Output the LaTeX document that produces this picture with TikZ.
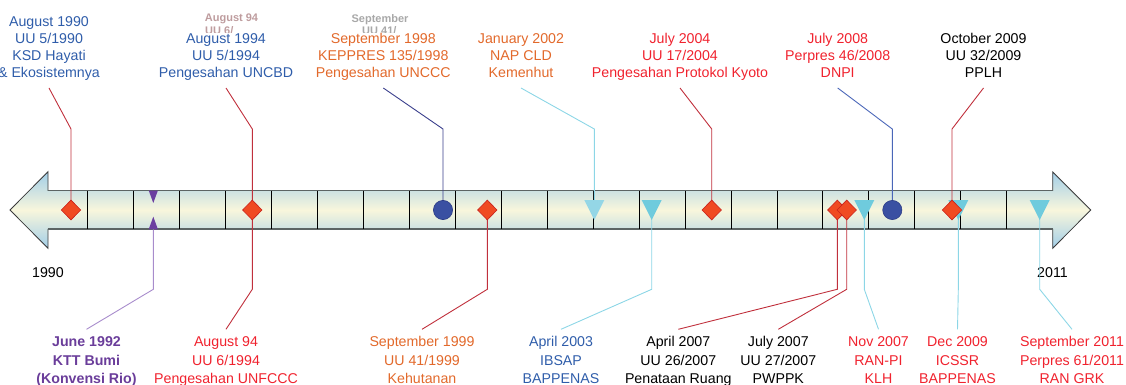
\documentclass[tikz,border=0pt]{standalone}
\usepackage{fontspec}
\setmainfont{Liberation Sans}
\usetikzlibrary{calc}

% text colours
\definecolor{cBlue}{HTML}{2F5DAA}
\definecolor{cOrange}{HTML}{E2692B}
\definecolor{cRed}{HTML}{F0222E}
\definecolor{cPurple}{HTML}{6A3D9A}
% leader colours
\definecolor{lRed}{HTML}{C0303C}
\definecolor{lNavy}{HTML}{3A3F8C}
\definecolor{lBlue}{HTML}{4A66B8}
\definecolor{lCyan}{HTML}{8CD6E6}
\definecolor{lPurple}{HTML}{A88CCC}
% marker colours
\definecolor{mkRed}{HTML}{F04A22}
\definecolor{mkRedEdge}{HTML}{C8201C}
\definecolor{mkNavy}{HTML}{3A50A2}
\definecolor{mkNavyEdge}{HTML}{2C3C86}
\definecolor{mkCyanA}{HTML}{94D6E6}
\definecolor{mkCyanB}{HTML}{6FCBDD}
\definecolor{mkPurple}{HTML}{6B3FA0}
% timeline arrow
\definecolor{bandBlue}{HTML}{A2CEE8}
\definecolor{bandCream}{HTML}{F8F6DC}
\definecolor{bandEdge}{HTML}{5C6464}
\definecolor{headEdge}{HTML}{3A3A3A}
% faded overprinted text
\definecolor{ghostRed}{HTML}{BE9C9E}
\definecolor{ghostGrey}{HTML}{A8A8A8}

% centred stacks of lines: baseline at the last line / at the first line
\newcommand\toplines[1]{\vbox{\halign{\hfil##\hfil\cr#1\crcr}}}
\newcommand\botlines[1]{\vtop{\halign{\hfil##\hfil\cr#1\crcr}}}

\tikzset{
  lbl/.style={inner xsep=1pt, inner ysep=7pt, outer sep=0pt},
  toplbl/.style={lbl, anchor=south, text depth=3pt, font=\fontsize{14.2}{17.3}\selectfont},
  botlbl/.style={lbl, anchor=north, text height=10.5pt, font=\fontsize{14.2}{18.2}\selectfont},
  yearlbl/.style={inner sep=0pt, font=\fontsize{14.2}{17}\selectfont},
  ghost/.style={inner sep=0pt, font=\fontsize{11}{13}\selectfont\bfseries},
  lead/.style={line width=0.9pt},
  divider/.style={line width=0.9pt, draw=black},
  mkdiamond/.pic={\path[draw=mkRedEdge, fill=mkRed, line width=0.6pt]
      (-9.7,0) -- (0,-9.9) -- (9.7,0) -- (0,9.9) -- cycle;},
  mkdisc/.pic={\path[draw=mkNavyEdge, fill=mkNavy, line width=0.6pt]
      (0,0) circle[radius=9.6];},
  mktriA/.pic={\fill[mkCyanA] (-10,-10) -- (10,-10) -- (0,10) -- cycle;},
  mktriB/.pic={\fill[mkCyanB] (-10,-10) -- (10,-10) -- (0,10) -- cycle;},
  mkpurple/.pic={\fill[mkPurple] (-4.6,-19.5) -- (4.6,-19.5) -- (0,-7) -- cycle;
                 \fill[mkPurple] (-4.6,19.3) -- (4.6,19.3) -- (0,6.7) -- cycle;},
}

\begin{document}
\begin{tikzpicture}[x=1pt,y=-1pt]
\useasboundingbox (0,0) rectangle (1126,385);

% ---- timeline arrow ----
\shade[top color=bandBlue, bottom color=bandBlue, middle color=bandCream]
  (10,210) -- (48,171.7) -- (48,190.5) -- (1052.7,190.5) -- (1052.7,172)
  -- (1090.7,210) -- (1052.7,248.3) -- (1052.7,229.3) -- (48,229.3)
  -- (48,248.3) -- cycle;
\draw[line width=0.8pt, draw=headEdge, line join=miter]
  (10,210) -- (48,171.7) -- (48,190.5) -- (1052.7,190.5) -- (1052.7,172)
  -- (1090.7,210) -- (1052.7,248.3) -- (1052.7,229.3) -- (48,229.3)
  -- (48,248.3) -- cycle;
\draw[line width=1.7pt, draw=bandEdge] (48,190.5) -- (1052.7,190.5);
\draw[line width=1.7pt, draw=bandEdge] (48,229.3) -- (1052.7,229.3);
\foreach \k in {0,...,20}
  \draw[divider] ({87.7+45.95*\k},190.5) -- ({87.7+45.95*\k},229.3);

\node[yearlbl] (y1990) at (48,273) {1990};
\node[yearlbl] (y2011) at (1052.5,273) {2011};

% ---- marker positions ----
\coordinate (m1) at (71,210);
\coordinate (p1) at (153.3,210);
\coordinate (p1b) at (153.3,229.3);
\coordinate (m2) at (252.3,210);
\coordinate (m3) at (443,210);
\coordinate (m4) at (487.3,210);
\coordinate (m5) at (594.3,210);
\coordinate (m6) at (651.7,210);
\coordinate (m7) at (711.7,210);
\coordinate (m8) at (837.3,210);
\coordinate (m9) at (846.7,210);
\coordinate (m10) at (864.3,210);
\coordinate (m11) at (892.3,210);
\coordinate (m12) at (958.3,210);
\coordinate (m13) at (952,210);
\coordinate (m14) at (1039.7,210);
\coordinate (elbA) at (0,129);
\coordinate (elbB) at (0,289.3);

% ---- faded overprinted text (second lines only partly visible) ----
\node[ghost, text=ghostRed] (g1) at (231.5,18.5) {August 94};
\node[ghost, text=ghostGrey] (g3) at (380,19.5) {September};
\begin{scope}
  \clip (150,24) rectangle (460,32.5);
  \node[ghost, text=ghostRed, anchor=west] (g2) at (205,31) {UU 6/};
  \node[ghost, text=ghostGrey, anchor=west] (g4) at (362,31) {UU 41/};
\end{scope}

% ---- labels above ----
\node[toplbl, text=cBlue] (t1) at (49,88)
  {\toplines{August 1990\cr UU 5/1990\cr KSD Hayati\cr \& Ekosistemnya}};
\node[toplbl, text=cBlue] (t2) at (226,88)
  {\toplines{August 1994\cr UU 5/1994\cr Pengesahan UNCBD}};
\node[toplbl, text=cOrange] (t3) at (383.3,88)
  {\toplines{September 1998\cr KEPPRES 135/1998\cr Pengesahan UNCCC}};
\node[toplbl, text=cOrange] (t4) at (521,88)
  {\toplines{January 2002\cr NAP CLD\cr Kemenhut}};
\node[toplbl, text=cRed] (t5) at (680,88)
  {\toplines{July 2004\cr UU 17/2004\cr Pengesahan Protokol Kyoto}};
\node[toplbl, text=cRed] (t6) at (837.7,88)
  {\toplines{July 2008\cr Perpres 46/2008\cr DNPI}};
\node[toplbl, text=black] (t7) at (983.5,88)
  {\toplines{October 2009\cr UU 32/2009\cr PPLH}};

% ---- labels below ----
\node[botlbl, text=cPurple, font=\fontsize{14.2}{18.2}\selectfont\bfseries] (b1) at (86.5,329.3)
  {\botlines{June 1992\cr KTT Bumi\cr (Konvensi Rio)}};
\node[botlbl, text=cRed] (b2) at (226,329.3)
  {\botlines{August 94\cr UU 6/1994\cr Pengesahan UNFCCC}};
\node[botlbl, text=cOrange] (b3) at (422,329.3)
  {\botlines{September 1999\cr UU 41/1999\cr Kehutanan}};
\node[botlbl, text=cBlue] (b4) at (561,329.3)
  {\botlines{April 2003\cr IBSAP\cr BAPPENAS}};
\node[botlbl, text=black] (b5) at (678.3,329.3)
  {\botlines{April 2007\cr UU 26/2007\cr Penataan Ruang}};
\node[botlbl, text=black] (b6) at (778.3,329.3)
  {\botlines{July 2007\cr UU 27/2007\cr PWPPK}};
\node[botlbl, text=cRed] (b7) at (878.5,329.3)
  {\botlines{Nov 2007\cr RAN-PI\cr KLH}};
\node[botlbl, text=cRed] (b8) at (957.5,329.3)
  {\botlines{Dec 2009\cr ICSSR\cr BAPPENAS}};
\node[botlbl, text=cRed] (b9) at (1072,329.3)
  {\botlines{September 2011\cr Perpres 61/2011\cr RAN GRK}};

% ---- leaders from the upper labels ----
\draw[lead, lRed]  (t1.south) -- (m1 |- elbA) -- (m1);
\draw[lead, lRed]  (t2.south) -- (m2 |- elbA) -- (m2);
\draw[lead, lNavy] (t3.south) -- (m3 |- elbA) -- (m3);
\draw[lead, lCyan] (t4.south) -- (m5 |- elbA) -- (m5);
\draw[lead, lRed]  (t5.south) -- (m7 |- elbA) -- (m7);
\draw[lead, lBlue] (t6.south) -- (m11 |- elbA) -- (m11);
\draw[lead, lRed]  (t7.south) -- (m13 |- elbA) -- (m13);

% ---- leaders to the lower labels ----
\draw[lead, lPurple] (p1b) -- (p1 |- elbB) -- (b1.north);
\draw[lead, lRed]  (m2) -- (m2 |- elbB) -- (b2.north);
\draw[lead, lRed]  (m4) -- (m4 |- elbB) -- (b3.north);
\draw[lead, lCyan] (m6) -- (m6 |- elbB) -- (b4.north);
\draw[lead, lRed]  (m8) -- (m8 |- elbB) -- (b5.north);
\draw[lead, lRed]  (m9) -- (m9 |- elbB) -- (b6.north);
\draw[lead, lCyan] (m10) -- (m10 |- elbB) -- (b7.north);
\draw[lead, lCyan] (m12) -- (m12 |- elbB) -- (b8.north);
\draw[lead, lCyan] (m14) -- (m14 |- elbB) -- (b9.north);

% ---- markers ----
\pic at (m1) {mkdiamond};
\pic at (p1) {mkpurple};
\pic at (m2) {mkdiamond};
\pic at (m3) {mkdisc};
\pic at (m4) {mkdiamond};
\pic at (m5) {mktriA};
\pic at (m6) {mktriB};
\pic at (m7) {mkdiamond};
\pic at (m8) {mkdiamond};
\pic at (m9) {mkdiamond};
\pic at (m10) {mktriB};
\pic at (m11) {mkdisc};
\pic at (m12) {mktriB};
\pic at (m13) {mkdiamond};
\pic at (m14) {mktriB};
\end{tikzpicture}
\end{document}
